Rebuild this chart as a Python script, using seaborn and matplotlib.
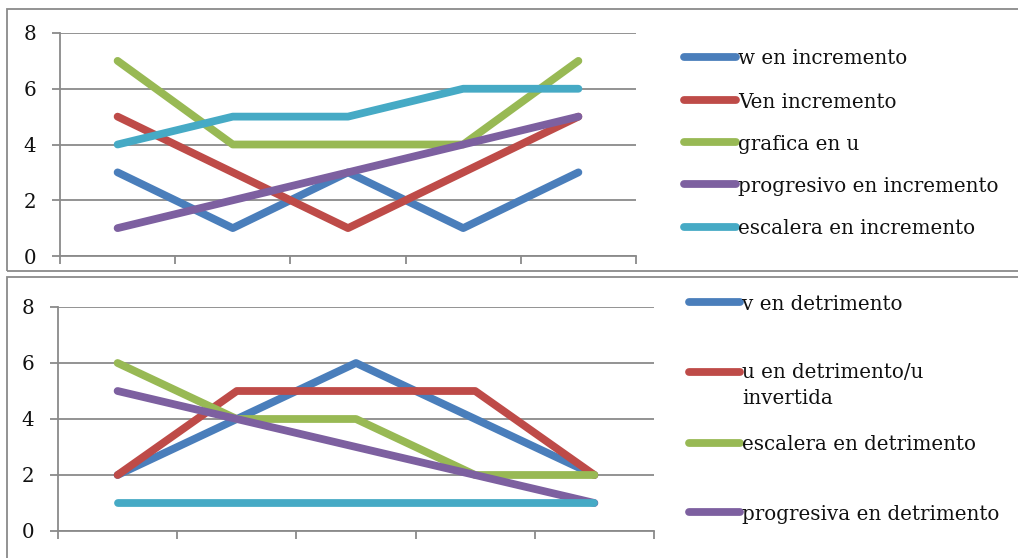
import matplotlib
matplotlib.use("Agg")
import matplotlib.pyplot as plt
from matplotlib.lines import Line2D
from matplotlib.patches import Rectangle
import numpy as np
import pandas as pd
import seaborn as sns

# Five points per curve, one per position along the x axis
positions = [1, 2, 3, 4, 5]

# Upper chart: increasing shapes
inc_names = ["w en incremento", "Ven incremento", "grafica en u",
             "progresivo en incremento", "escalera en incremento"]
inc_w = [3, 1, 3, 1, 3]
inc_v = [5, 3, 1, 3, 5]
inc_u = [7, 4, 4, 4, 7]
inc_prog = [1, 2, 3, 4, 5]
inc_esc = [4, 5, 5, 6, 6]

# Lower chart: decreasing shapes (the flat series has no legend entry)
dec_names = ["v en detrimento", "u en detrimento/u\ninvertida",
             "escalera en detrimento", "progresiva en detrimento", "constante"]
dec_v = [2, 4, 6, 4, 2]
dec_u = [2, 5, 5, 5, 2]
dec_esc = [6, 4, 4, 2, 2]
dec_prog = [5, 4, 3, 2, 1]
dec_const = [1, 1, 1, 1, 1]

y_ticks = [0, 2, 4, 6, 8]

colors = ["#4A7EBB", "#BE4B48", "#98B954", "#7D60A0", "#46AAC5"]

sns.set_theme(style="white")
plt.rcParams["font.family"] = ["DejaVu Serif"]

W, H = 1018, 558
fig = plt.figure(figsize=(W / 100, H / 100), dpi=100)
fig.patch.set_facecolor("white")

GRID = "#8A8A8A"
TXT = "#111111"
FS = 14.3
LW = 5.6


def px_axes(left, top, right, bottom):
    return fig.add_axes([left / W, 1 - bottom / H, (right - left) / W, (bottom - top) / H])


def long_form(names, series):
    rows = []
    for name, vals in zip(names, series):
        for x, v in zip(positions, vals):
            rows.append({"pos": x, "valor": v, "serie": name})
    return pd.DataFrame(rows)


def draw_panel(ax, names, series):
    df = long_form(names, series)
    sns.lineplot(data=df, x="pos", y="valor", hue="serie", hue_order=names,
                 palette=colors, linewidth=LW, ax=ax, legend=False,
                 solid_capstyle="round", solid_joinstyle="round")
    ax.set_xlim(0.5, 5.5)
    ax.set_ylim(0, 8)
    ax.set_yticks(y_ticks)
    ax.set_xticks(np.arange(0.5, 6.0, 1.0))
    ax.set_xticklabels([])
    ax.set_xlabel("")
    ax.set_ylabel("")
    ax.grid(axis="y", color=GRID, linewidth=1.3)
    ax.grid(axis="x", visible=False)
    ax.set_axisbelow(True)
    for side in ("top", "right"):
        ax.spines[side].set_visible(False)
    for side in ("left", "bottom"):
        ax.spines[side].set_color(GRID)
        ax.spines[side].set_linewidth(1.3)
    ax.tick_params(axis="y", which="major", length=6, width=1.3, color=GRID,
                   left=True, pad=11, labelsize=FS, labelcolor=TXT)
    ax.tick_params(axis="x", which="major", length=6, width=1.3, color=GRID,
                   bottom=True, direction="out")
    ax.set_facecolor("none")


def draw_key(entries, x0, x1, ys):
    # Legend swatches and labels placed in pixel coordinates of the figure
    for (name, color), y in zip(entries, ys):
        fy = 1 - y / H
        fig.add_artist(Line2D([x0 / W, x1 / W], [fy, fy], color=color,
                              linewidth=LW, solid_capstyle="round"))
        if "\n" in name:
            fig.text((x1 + 2) / W, 1 - (y - 9) / H, name, fontsize=FS,
                     color=TXT, va="top", ha="left", linespacing=1.45)
        else:
            fig.text((x1 + 2) / W, fy, name, fontsize=FS, color=TXT,
                     va="center_baseline", ha="left")


# Frames around the two charts
fig.add_artist(Rectangle((7 / W, 1 - 271 / H), 1.2, (271 - 9) / H,
                         transform=fig.transFigure, fill=False,
                         edgecolor=GRID, linewidth=1.3))
fig.add_artist(Rectangle((7 / W, -0.1), 1.2, 0.1 + (H - 277) / H,
                         transform=fig.transFigure, fill=False,
                         edgecolor=GRID, linewidth=1.3))

ax_top = px_axes(60, 33, 636, 256)
draw_panel(ax_top, inc_names, [inc_w, inc_v, inc_u, inc_prog, inc_esc])
draw_key(list(zip(inc_names, colors)), 684, 736, [57, 100, 142, 184, 227])

ax_bot = px_axes(58, 307, 654, 531)
draw_panel(ax_bot, dec_names, [dec_v, dec_u, dec_esc, dec_prog, dec_const])
draw_key(list(zip(dec_names[:4], colors[:4])), 689, 740, [302, 372, 443, 512])

fig.savefig("out.png", dpi=100, facecolor="white")
